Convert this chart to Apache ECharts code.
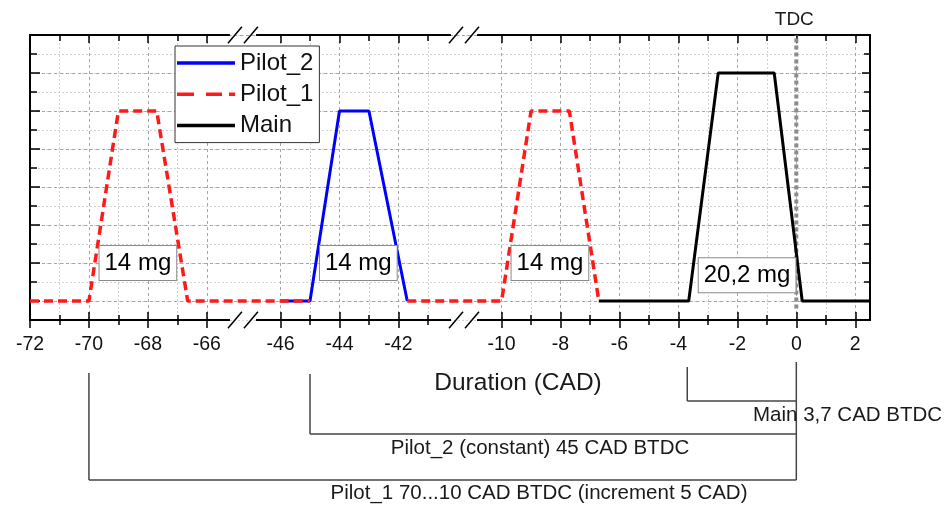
<!DOCTYPE html>
<html>
<head>
<meta charset="utf-8">
<script src="https://cdn.jsdelivr.net/npm/echarts@6/dist/echarts.min.js"></script>
<style>
  html, body { margin: 0; padding: 0; background: #fff; }
  #chart { width: 948px; height: 507px; }
</style>
</head>
<body>
<div id="chart"></div>
<script>
// injection profiles (x in CAD, y in relative rate; null splits the line)
const pilot2X = [-46, -45, -44, -43, -41.7];
const pilot2Y = [0, 0, 10, 10, 0];
const pilot1X = [-72, -70, -69, -67.7, -66.65, -45, null, -41.7, -10, -9, -7.7, -6.7];
const pilot1Y = [0, 0, 10, 10, 0, 0, null, 0, 0, 10, 10, 0];
const mainX = [-6.7, -3.65, -2.65, -0.75, 0.2, 2.5];
const mainY = [0, 0, 12, 12, 0, 0];
const tdcX = [0, 0];
const tdcY = [-0.4, 14];

// x ticks on the broken axis
const majorTicks = [-72, -70, -68, -66, -46, -44, -42, -10, -8, -6, -4, -2, 0, 2];
const minorTicks = [-71, -69, -67, -45, -43, -41, -9, -7, -5, -3, -1, 1];

// mass boxes
const massText = ['14 mg', '14 mg', '14 mg', '20,2 mg'];
const massX = [-68.34, -43.36, -8.36, -1.67];
const massY = [2, 2, 2, 1.35];

// timing brackets under the axis
const timingText = ['Main 3,7 CAD BTDC', 'Pilot_2 (constant) 45 CAD BTDC', 'Pilot_1 70...10 CAD BTDC (increment 5 CAD)'];
const timingX = [-3.7, -45, -70];

// broken x axis
const xBreaks = [
  { start: -65.25, end: -46.8, gap: 0.95 },
  { start: -40.25, end: -10.8, gap: 0.95 }
];

const FONT = 'Liberation Sans, Arial, sans-serif';

function zip(xs, ys) {
  return xs.map((x, i) => (x === null ? ['-', '-'] : [x, ys[i]]));
}

function xAxisOf(position, ticks, tickLen, inside, extra) {
  return Object.assign({
    type: 'value',
    gridIndex: 0,
    position: position,
    min: -72,
    max: 2.5,
    interval: 1,
    breaks: xBreaks.map(b => Object.assign({}, b)),
    breakArea: { show: false },
    axisLine: { show: true, onZero: false, lineStyle: { color: '#000', width: 2 } },
    axisTick: {
      show: true, inside: inside, length: tickLen, customValues: ticks,
      lineStyle: { color: '#000', width: 1.5 }
    },
    axisLabel: { show: false },
    splitLine: { show: false }
  }, extra || {});
}

function yAxisOf(gridIndex, position, min, interval, tickLen, extra) {
  return Object.assign({
    type: 'value',
    gridIndex: gridIndex,
    position: position,
    min: min,
    max: 14,
    interval: interval,
    axisLine: { show: gridIndex === 0, onZero: false, lineStyle: { color: '#000', width: 2 } },
    axisTick: { show: true, inside: true, length: tickLen, lineStyle: { color: '#000', width: 1.5 } },
    axisLabel: { show: false },
    splitLine: { show: false }
  }, extra || {});
}

const chart = echarts.init(document.getElementById('chart'));

chart.setOption({
  animation: false,
  backgroundColor: '#fff',
  textStyle: { fontFamily: FONT },
  grid: [
    { left: 30, right: 78, top: 35, bottom: 187 },
    // same box, bottom at the baseline: carries the major horizontal grid
    { left: 30, right: 78, top: 35, bottom: 206 }
  ],
  legend: {
    data: [
      { name: 'Pilot_2', icon: 'path://M0,0H58V3.5H0Z' },
      { name: 'Pilot_1', icon: 'path://M0,0H17V3.5H0ZM29,0H45V3.5H29ZM52,0H58V3.5H52Z' },
      { name: 'Main', icon: 'path://M0,0H58V3.5H0Z' }
    ],
    orient: 'vertical',
    left: 175,
    top: 46,
    itemWidth: 58,
    itemHeight: 3.5,
    itemGap: 5.3,
    padding: [4, 6, 4, 2],
    backgroundColor: '#fff',
    borderColor: '#333',
    borderWidth: 1,
    borderRadius: 0,
    selectedMode: false,
    textStyle: { fontSize: 24, lineHeight: 26, color: '#111', fontFamily: FONT },
    z: 10
  },
  xAxis: [
    // bottom, major: labels, outward ticks, dashed grid
    xAxisOf('bottom', majorTicks, 8, false, {
      axisLabel: {
        show: true, margin: 15, fontSize: 19.5, color: '#111', fontFamily: FONT,
        customValues: majorTicks,
        formatter: v => String(v)
      },
      splitLine: { show: true, lineStyle: { color: '#a6a6a6', type: [3, 3], width: 1 } }
    }),
    xAxisOf('bottom', majorTicks, 8, true),
    // bottom, minor: dotted grid
    xAxisOf('bottom', minorTicks, 5, false, {
      splitLine: { show: true, lineStyle: { color: '#d2d2d2', type: [2, 2], width: 1 } }
    }),
    xAxisOf('bottom', minorTicks, 5, true),
    // top
    xAxisOf('top', majorTicks, 8, true),
    xAxisOf('top', minorTicks, 6, true),
    // helper for grid 1
    { type: 'value', gridIndex: 1, show: false, min: 0, max: 1 }
  ],
  yAxis: [
    yAxisOf(0, 'left', -1, 1, 7, {
      splitLine: { show: true, lineStyle: { color: '#d2d2d2', type: [2, 2], width: 1 } }
    }),
    yAxisOf(0, 'right', -1, 1, 6),
    yAxisOf(1, 'left', 0, 2, 10, {
      splitLine: { show: true, lineStyle: { color: '#a6a6a6', type: [3, 3], width: 1 } }
    }),
    yAxisOf(1, 'right', 0, 2, 8)
  ],
  series: [
    {
      name: 'TDC',
      type: 'line',
      data: zip(tdcX, tdcY),
      symbol: 'none',
      silent: true,
      lineStyle: { color: '#8c8c8c', width: 4, type: [4, 3] },
      z: 1
    },
    {
      name: 'Pilot_2',
      type: 'line',
      data: zip(pilot2X, pilot2Y),
      symbol: 'none',
      color: '#0000ff',
      lineStyle: { color: '#0000ff', width: 3 }
    },
    {
      name: 'Pilot_1',
      type: 'line',
      data: zip(pilot1X, pilot1Y),
      symbol: 'none',
      connectNulls: false,
      color: '#ff1a1a',
      lineStyle: { color: '#ff1a1a', width: 3.5, type: [9, 5] }
    },
    {
      name: 'Main',
      type: 'line',
      data: zip(mainX, mainY),
      symbol: 'none',
      color: '#000',
      lineStyle: { color: '#000', width: 3 }
    },
    {
      name: 'mass',
      type: 'scatter',
      data: zip(massX, massY),
      symbolSize: 1,
      silent: true,
      itemStyle: { color: 'rgba(0,0,0,0)', opacity: 1 },
      label: {
        show: true,
        position: 'inside',
        formatter: p => massText[p.dataIndex],
        fontSize: 24,
        lineHeight: 26,
        color: '#000',
        opacity: 1,
        textBorderWidth: 0,
        fontFamily: FONT,
        backgroundColor: '#fff',
        borderColor: '#8a8a8a',
        borderWidth: 1,
        padding: [4, 5]
      },
      z: 5
    }
  ]
});

// annotations drawn from the axis positions
const px = v => chart.convertToPixel({ xAxisIndex: 0 }, v);
const lineCol = '#444';
const graphics = [];

function seg(x1, y1, x2, y2, col, w) {
  graphics.push({
    type: 'line',
    silent: true,
    shape: { x1: x1, y1: y1, x2: x2, y2: y2 },
    style: { stroke: col || lineCol, lineWidth: w || 1.5 },
    z: 20
  });
}

function label(text, x, y, size, align) {
  graphics.push({
    type: 'text',
    silent: true,
    x: x,
    y: y,
    style: {
      text: text,
      fontSize: size,
      fontFamily: FONT,
      fill: '#1a1a1a',
      align: align || 'center',
      verticalAlign: 'middle',
      textAlign: align || 'center',
      textVerticalAlign: 'middle'
    },
    z: 20
  });
}

// axis break marks
xBreaks.forEach(b => {
  const a = px(b.start), e = px(b.end);
  [35, 320].forEach(yc => {
    seg(a - 1, yc + 8.3, a + 13, yc - 8.3, '#000', 1.5);
    seg(e - 13, yc + 8.3, e + 1, yc - 8.3, '#000', 1.5);
  });
});

const x0 = px(0);
label('TDC', x0 - 2, 20, 19);
label('Duration (CAD)', 518, 383, 24.5);

// TDC reference line under the axis
seg(x0, 362, x0, 480);
// Main
const xm = px(timingX[0]);
seg(xm, 367, xm, 401);
seg(xm, 401, x0, 401);
label(timingText[0], 753, 415, 20.5, 'left');
// Pilot_2
const xp2 = px(timingX[1]);
seg(xp2, 374, xp2, 434);
seg(xp2, 434, x0, 434);
label(timingText[1], 540, 448, 20.5);
// Pilot_1
const xp1 = px(timingX[2]);
seg(xp1, 373, xp1, 480);
seg(xp1, 480, x0, 480);
label(timingText[2], 539, 493, 20.5);

chart.setOption({ graphic: graphics });
</script>
</body>
</html>
